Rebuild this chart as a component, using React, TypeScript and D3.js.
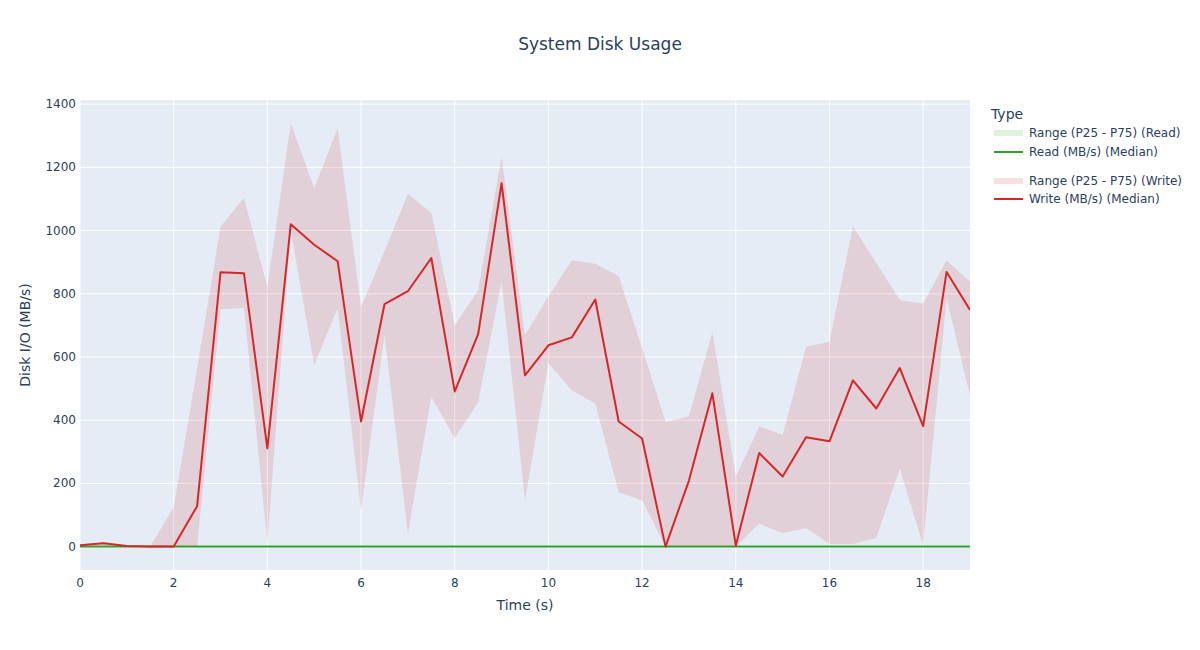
import React from "react";
import * as d3 from "d3";

const times: number[] = Array.from({ length: 39 }, (_, i) => i * 0.5);

const writeMedian: number[] = [
  4, 11, 2, 0, 0, 128, 868, 865, 311, 1020, 955, 903, 396, 767, 808, 913, 491, 672, 1150, 542,
  637, 662, 782, 396, 342, 0, 209, 485, 3, 296, 222, 346, 333, 526, 437, 565, 381, 869, 749,
];
const writeP75: number[] = [
  6, 14, 4, 0, 125, 565, 1012, 1104, 822, 1340, 1134, 1324, 758, 935, 1116, 1056, 700, 811, 1234, 669,
  792, 906, 895, 856, 630, 394, 412, 679, 223, 380, 353, 632, 648, 1014, 897, 780, 769, 906, 838,
];
const writeP25: number[] = [
  2, 8, 0, 0, 0, 0, 751, 755, 10, 1000, 574, 754, 114, 669, 41, 473, 343, 457, 838, 146,
  580, 494, 453, 172, 146, 0, 0, 0, 0, 72, 42, 59, 8, 8, 27, 246, 4, 785, 478,
];
const readMedian: number[] = times.map(() => 0);
const readP25: number[] = times.map(() => 0);
const readP75: number[] = times.map(() => 0);

const xTicks = [0, 2, 4, 6, 8, 10, 12, 14, 16, 18];
const yTicks = [0, 200, 400, 600, 800, 1000, 1200, 1400];

const legendItems = [
  { label: "Range (P25 - P75) (Read)", kind: "band", color: "rgba(44,160,44,0.15)" },
  { label: "Read (MB/s) (Median)", kind: "line", color: "#2ca02c" },
  { label: "Range (P25 - P75) (Write)", kind: "band", color: "rgba(214,39,40,0.15)" },
  { label: "Write (MB/s) (Median)", kind: "line", color: "#d62728" },
];

const W = 1200;
const H = 650;
const L = 80, R = 970, T = 100, B = 570;
const FONT = "'DejaVu Sans', sans-serif";
const TXT = "#2a3f5f";

export default function App() {
  const x = d3.scaleLinear().domain([0, 19]).range([L, R]);
  const y = d3.scaleLinear().domain([-74, 1413]).range([B, T]);

  const line = d3
    .line<number>()
    .x((_, i) => x(times[i]))
    .y((d) => y(d));
  const area = (lo: number[], hi: number[]) =>
    d3
      .area<number>()
      .x((_, i) => x(times[i]))
      .y0((_, i) => y(lo[i]))
      .y1((_, i) => y(hi[i]))(times) as string;

  const legendY = [133, 152, 181, 199];

  return (
    <div style={{ position: "absolute", left: 0, top: 0 }}>
      <svg width={W} height={H} style={{ display: "block", background: "#fff" }} fontFamily={FONT}>
        <rect x={L} y={T} width={R - L} height={B - T} fill="#E5ECF6" />
        <defs>
          <clipPath id="plotclip">
            <rect x={L} y={T} width={R - L} height={B - T} />
          </clipPath>
        </defs>
        {xTicks.map((t) => (
          <line key={"gx" + t} x1={x(t)} x2={x(t)} y1={T} y2={B} stroke="#fff" strokeWidth={1} />
        ))}
        {yTicks.map((t) => (
          <line key={"gy" + t} x1={L} x2={R} y1={y(t)} y2={y(t)} stroke="#fff" strokeWidth={1} />
        ))}
        <line x1={L} x2={R} y1={y(0)} y2={y(0)} stroke="#fff" strokeWidth={2} />
        <g clipPath="url(#plotclip)">
          <path d={area(readP25, readP75)} fill="rgba(44,160,44,0.15)" stroke="none" />
          <path d={line(readMedian) as string} fill="none" stroke="#2ca02c" strokeWidth={2} />
          <path d={area(writeP25, writeP75)} fill="rgba(214,39,40,0.14)" stroke="none" />
          <path d={line(writeMedian) as string} fill="none" stroke="#d62728" strokeWidth={2} strokeLinejoin="round" />
        </g>
        {xTicks.map((t) => (
          <text key={"tx" + t} x={x(t)} y={B + 17} fontSize={12} fill={TXT} textAnchor="middle">
            {t}
          </text>
        ))}
        {yTicks.map((t) => (
          <text key={"ty" + t} x={L - 4} y={y(t) + 4} fontSize={12} fill={TXT} textAnchor="end">
            {t}
          </text>
        ))}
        <text x={(L + R) / 2} y={610} fontSize={14} fill={TXT} textAnchor="middle">
          Time (s)
        </text>
        <text
          transform={`translate(30,${(T + B) / 2}) rotate(-90)`}
          fontSize={14}
          fill={TXT}
          textAnchor="middle"
        >
          Disk I/O (MB/s)
        </text>
        <text x={600} y={50} fontSize={17} fill={TXT} textAnchor="middle">
          System Disk Usage
        </text>
        <text x={991} y={119} fontSize={14} fill={TXT}>
          Type
        </text>
        {legendItems.map((it, i) => (
          <g key={it.label}>
            {it.kind === "band" ? (
              <rect x={994} y={legendY[i] - 3} width={29} height={6} fill={it.color} />
            ) : (
              <line x1={994} x2={1023} y1={legendY[i]} y2={legendY[i]} stroke={it.color} strokeWidth={2} />
            )}
            <text x={1029} y={legendY[i] + 4} fontSize={12} fill={TXT}>
              {it.label}
            </text>
          </g>
        ))}
      </svg>
    </div>
  );
}
